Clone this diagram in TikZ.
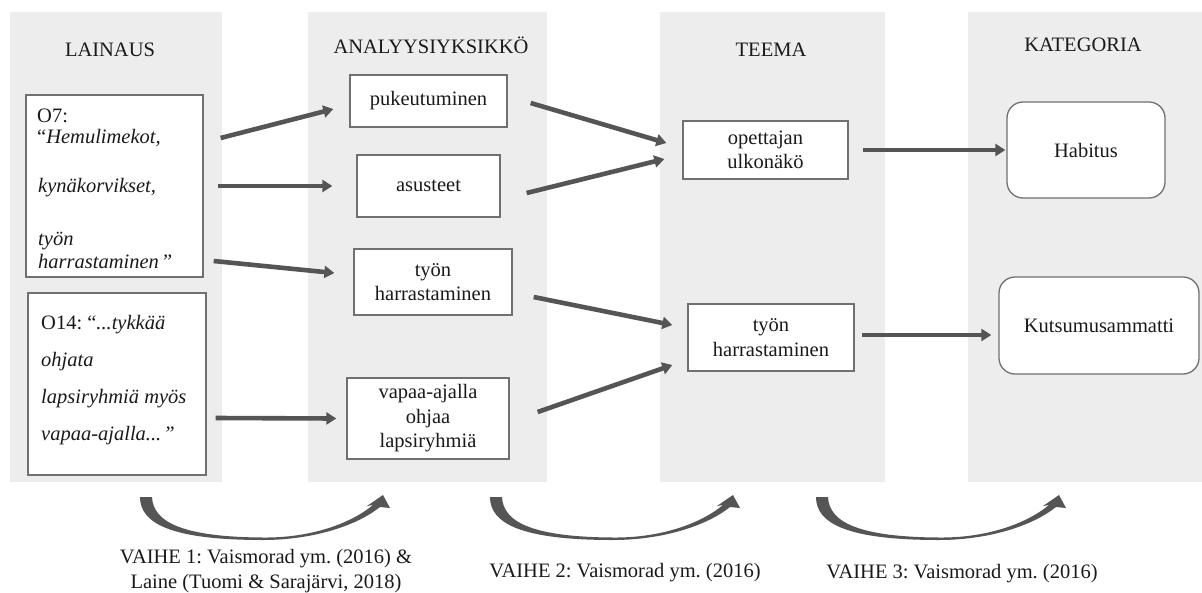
\documentclass[tikz,border=0pt]{standalone}
\usepackage{fontspec}
\setmainfont{Liberation Serif}
\usetikzlibrary{arrows.meta}
\definecolor{panelgray}{HTML}{EDEDED}
\definecolor{boxline}{HTML}{707070}
\definecolor{arrowgray}{HTML}{555555}
\definecolor{inkdark}{HTML}{1A1A1A}
\frenchspacing

\tikzset{
  % tapering curved block arrow under each pair of columns
  phasearrow/.pic={
    \fill[arrowgray] (0,0) .. controls (0,26) and (30,43) .. (123,43)
      .. controls (170,43) and (215,30) .. (240,10)
      -- (250,11) -- (243,-2) -- (227,9) -- (233,8)
      .. controls (210,27) and (170,41) .. (123,40.5)
      .. controls (45,40) and (13,26) .. (12,0) -- cycle;
  }
}

\begin{document}
\begin{tikzpicture}[x=1pt,y=-1pt,
  every node/.style={text=inkdark, font=\fontsize{20.5}{24.5}\selectfont},
  header/.style={anchor=base, inner sep=0pt},
  unitbox/.style={draw=boxline, line width=1.3pt, fill=white, align=center, inner sep=0pt},
  catbox/.style={unitbox, rounded corners=16pt},
  quotebox/.style={draw=boxline, line width=1.3pt, fill=white, inner sep=0pt},
  quoteline/.style={anchor=base west, inner sep=0pt},
  flow/.style={draw=arrowgray, line width=4.6pt, -{Triangle[length=10pt,width=12pt]}},
  caption/.style={align=center, inner sep=0pt}
]
\useasboundingbox (0,0) rectangle (1202,592);

% background columns
\fill[panelgray] (10,12) rectangle (222,482);
\fill[panelgray] (308,12) rectangle (547,482);
\fill[panelgray] (660,12) rectangle (885,482);
\fill[panelgray] (968,12) rectangle (1202,482);

% column headings
\node[header] (hLainaus) at (110,56) {LAINAUS};
\node[header] (hUnit) at (431,53) {ANALYYSIYKSIKKÖ};
\node[header] (hTheme) at (771,56) {TEEMA};
\node[header] (hCat) at (1083,51) {KATEGORIA};

% quotations
\node[quotebox, minimum width=177pt, minimum height=182pt] (o7) at (114.5,186) {};
\node[quoteline] (q7a) at (37,122) {O7:};
\node[quoteline] (q7b) at (37,143) {“\textit{Hemulimekot,}};
\node[quoteline] (q7c) at (38,192) {\textit{kynäkorvikset,}};
\node[quoteline] (q7d) at (38,245) {\textit{työn}};
\node[quoteline] (q7e) at (38,268) {\textit{harrastaminen\kern2pt”}};

\node[quotebox, minimum width=178pt, minimum height=182pt] (o14) at (117,384) {};
\node[quoteline] (q14a) at (41,329) {O14: “\textit{...tykkää}};
\node[quoteline] (q14b) at (41,366) {\textit{ohjata}};
\node[quoteline] (q14c) at (41,403) {\textit{lapsiryhmiä myös}};
\node[quoteline] (q14d) at (41,440) {\textit{vapaa-ajalla...\kern2pt”}};

% units of analysis
\node[unitbox, minimum width=157pt, minimum height=52pt] (puk) at (428.5,101) {pukeutuminen};
\node[unitbox, minimum width=143pt, minimum height=62pt] (asus) at (428.5,186) {asusteet};
\node[unitbox, minimum width=158pt, minimum height=66pt] (tyo2) at (433,282) {työn\\harrastaminen};
\node[unitbox, minimum width=162pt, minimum height=81pt] (vap) at (428,418.5) {vapaa-ajalla\\ohjaa\\lapsiryhmiä};

% themes
\node[unitbox, minimum width=165pt, minimum height=58pt] (ope) at (765.5,150) {opettajan\\ulkonäkö};
\node[unitbox, minimum width=166pt, minimum height=67pt] (tyo3) at (771,337.5) {työn\\harrastaminen};

% categories
\node[catbox, minimum width=158pt, minimum height=96pt] (hab) at (1086,150) {Habitus};
\node[catbox, minimum width=200pt, minimum height=97pt] (kut) at (1099,325.5) {Kutsumusammatti};

% connections
\draw[flow] ([xshift=17pt,yshift=48pt]o7.east) -- ([xshift=-16pt,yshift=-8pt]puk.west);
\draw[flow] ([xshift=14pt]o7.east) -- ([xshift=-24pt]asus.west);
\draw[flow] ([xshift=10pt,yshift=-75pt]o7.east) -- ([xshift=-19pt,yshift=9pt]tyo2.west);
\draw[flow] ([xshift=9pt,yshift=-34pt]o14.east) -- ([xshift=-10pt]vap.west);
\draw[flow] ([xshift=23pt,yshift=-2pt]puk.east) -- ([xshift=-16pt,yshift=7pt]ope.west);
\draw[flow] ([xshift=26pt,yshift=-7pt]asus.east) -- ([xshift=-18pt,yshift=-9pt]ope.west);
\draw[flow] ([xshift=21pt,yshift=-15pt]tyo2.east) -- ([xshift=-15pt,yshift=12.5pt]tyo3.west);
\draw[flow] ([xshift=28pt,yshift=6.5pt]vap.east) -- ([xshift=-15pt,yshift=-27.5pt]tyo3.west);
\draw[flow] ([xshift=14pt]ope.east) -- ([xshift=-1pt]hab.west);
\draw[flow] ([xshift=7pt,yshift=2.5pt]tyo3.east) -- ([xshift=-7pt,yshift=-9.5pt]kut.west);

% phase arrows and their sources
\pic (ph1) at (140,497) {phasearrow};
\pic (ph2) at (490,497) {phasearrow};
\pic (ph3) at (816,497) {phasearrow};

\node[caption] (c1) at (266,571) {VAIHE 1: Vaismorad ym. (2016) \&\\Laine (Tuomi \& Sarajärvi, 2018)};
\node[header] (c2) at (625,577) {VAIHE 2: Vaismorad ym. (2016)};
\node[header] (c3) at (962,578) {VAIHE 3: Vaismorad ym. (2016)};
\end{tikzpicture}
\end{document}
